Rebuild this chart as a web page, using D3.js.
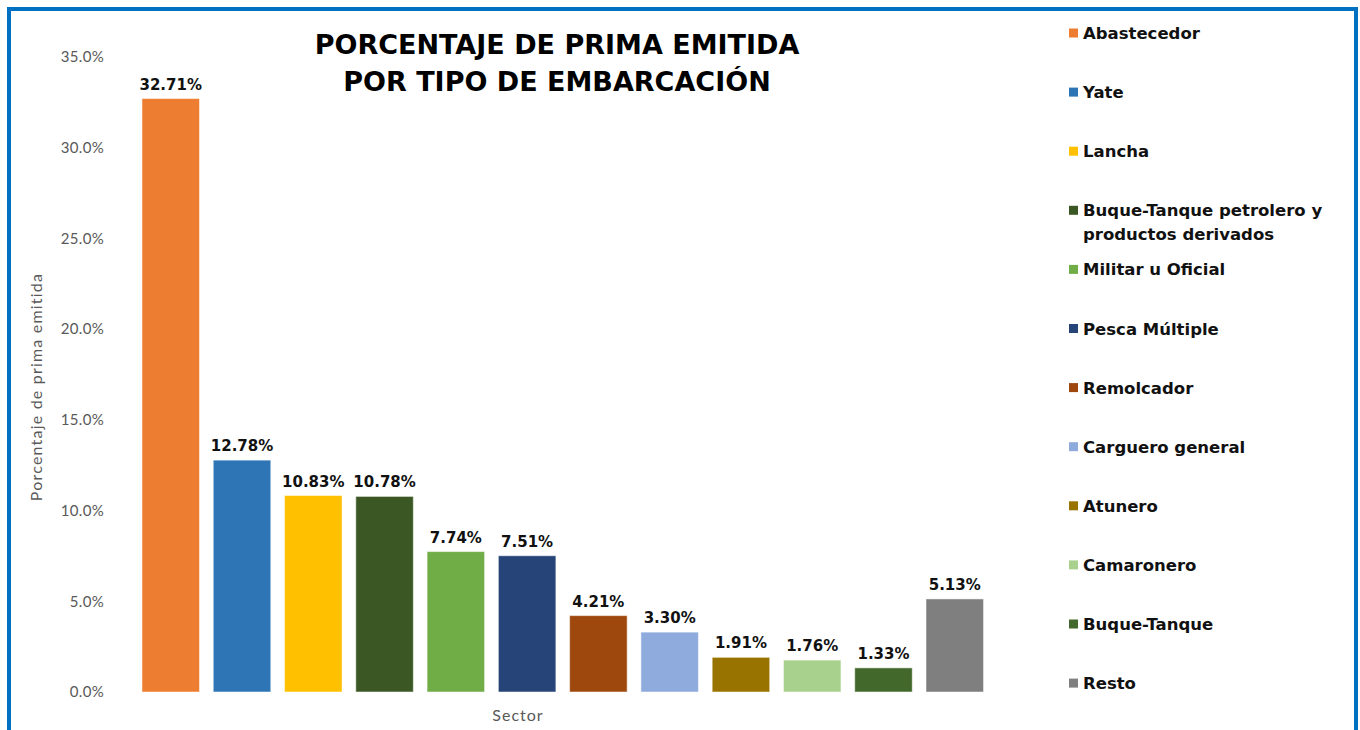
<!DOCTYPE html>
<html>
<head>
<meta charset="utf-8">
<script src="https://cdn.jsdelivr.net/npm/d3@7"></script>
<style>
  html, body { margin: 0; padding: 0; background: #fff; }
  svg { display: block; }
</style>
</head>
<body>
<svg id="chart" width="1360" height="730"></svg>
<script>
// Tipos de embarcación y su porcentaje de prima emitida
const categories = [
  "Abastecedor", "Yate", "Lancha", "Buque-Tanque petrolero y productos derivados",
  "Militar u Oficial", "Pesca Múltiple", "Remolcador", "Carguero general",
  "Atunero", "Camaronero", "Buque-Tanque", "Resto"
];
const values = [32.71, 12.78, 10.83, 10.78, 7.74, 7.51, 4.21, 3.30, 1.91, 1.76, 1.33, 5.13];
const colors = [
  "#ED7D31", "#2E75B6", "#FFC000", "#3B5824", "#70AD47", "#264478",
  "#9E480E", "#8FAADC", "#997300", "#A9D18E", "#43682B", "#7F7F7F"
];
const yTicks = [0, 5, 10, 15, 20, 25, 30, 35];
const titleLines = ["PORCENTAJE DE PRIMA EMITIDA", "POR TIPO DE EMBARCACIÓN"];
const legendLines = [
  ["Abastecedor"], ["Yate"], ["Lancha"], ["Buque-Tanque petrolero y", "productos derivados"],
  ["Militar u Oficial"], ["Pesca Múltiple"], ["Remolcador"], ["Carguero general"],
  ["Atunero"], ["Camaronero"], ["Buque-Tanque"], ["Resto"]
];

const svg = d3.select("#chart");
const boldFont = "'DejaVu Sans', sans-serif";
const regFont = "Lato, 'Open Sans', sans-serif";

// Marco azul exterior
svg.append("rect")
  .attr("x", 9).attr("y", 9)
  .attr("width", 1347).attr("height", 740)
  .attr("fill", "none")
  .attr("stroke", "#0070C0")
  .attr("stroke-width", 4);

// Escalas
const x = d3.scaleBand()
  .domain(categories)
  .range([135.1, 990.4])
  .paddingInner(0.193)
  .paddingOuter(0.0965);

const y = d3.scaleLinear()
  .domain([0, 35])
  .range([692, 57]);

// Eje Y (solo etiquetas)
const yAxis = svg.append("g")
  .attr("transform", "translate(104,0)")
  .call(d3.axisLeft(y).tickValues(yTicks).tickSize(0).tickPadding(0)
    .tickFormat(d => d3.format(".1f")(d) + "%"));
yAxis.select(".domain").remove();
yAxis.selectAll("text")
  .attr("fill", "#595959")
  .style("font-family", regFont)
  .style("font-size", "15px")
  .style("letter-spacing", "0.3px");

// Barras
svg.append("g").selectAll("rect")
  .data(values)
  .join("rect")
  .attr("x", (d, i) => x(categories[i]))
  .attr("y", d => y(d))
  .attr("width", x.bandwidth())
  .attr("height", d => y(0) - y(d))
  .attr("fill", (d, i) => colors[i])
  .attr("stroke", "#ffffff")
  .attr("stroke-opacity", 0.5)
  .attr("stroke-width", 1);

// Etiquetas de valor
svg.append("g").selectAll("text")
  .data(values)
  .join("text")
  .attr("x", (d, i) => x(categories[i]) + x.bandwidth() / 2)
  .attr("y", d => y(d) - 9)
  .attr("text-anchor", "middle")
  .style("font-family", boldFont)
  .style("font-weight", "bold")
  .style("font-size", "15px")
  .attr("fill", "#111")
  .text(d => d.toFixed(2) + "%");

// Título
svg.append("g").selectAll("text")
  .data(titleLines)
  .join("text")
  .attr("x", 557)
  .attr("y", (d, i) => 54 + i * 37)
  .attr("text-anchor", "middle")
  .style("font-family", boldFont)
  .style("font-weight", "bold")
  .style("font-size", "27px")
  .attr("fill", "#000")
  .text(d => d);

// Títulos de ejes
svg.append("text")
  .attr("transform", "translate(42,387) rotate(-90)")
  .attr("text-anchor", "middle")
  .style("font-family", regFont)
  .style("font-size", "16px")
  .style("letter-spacing", "1.2px")
  .attr("fill", "#595959")
  .text("Porcentaje de prima emitida");

svg.append("text")
  .attr("x", 518).attr("y", 721)
  .attr("text-anchor", "middle")
  .style("font-family", regFont)
  .style("font-size", "16px")
  .style("letter-spacing", "1px")
  .attr("fill", "#595959")
  .text("Sector");

// Leyenda
const legend = svg.append("g").selectAll("g")
  .data(legendLines)
  .join("g")
  .attr("transform", (d, i) => `translate(1069,${33 + i * 59.1})`);

legend.append("rect")
  .attr("x", 0).attr("y", -4.5)
  .attr("width", 9).attr("height", 9)
  .attr("fill", (d, i) => colors[i]);

legend.append("text")
  .attr("x", 14)
  .attr("y", 6)
  .style("font-family", boldFont)
  .style("font-weight", "bold")
  .style("font-size", "16.5px")
  .attr("fill", "#111")
  .selectAll("tspan")
  .data(d => d)
  .join("tspan")
  .attr("x", 14)
  .attr("dy", (d, i) => i === 0 ? 0 : 24)
  .text(d => d);
</script>
</body>
</html>
